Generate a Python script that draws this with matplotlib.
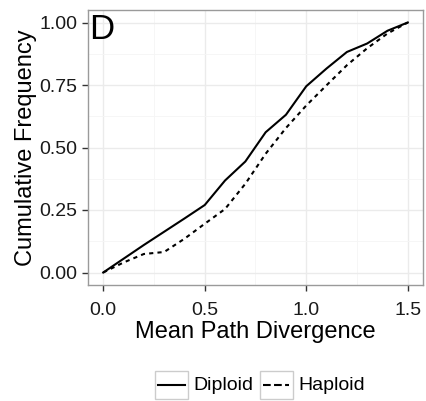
import matplotlib
matplotlib.use("Agg")
import matplotlib.pyplot as plt
from matplotlib.lines import Line2D
from matplotlib.patches import Rectangle
from matplotlib.legend_handler import HandlerLine2D

plt.rcParams['font.family'] = ['Liberation Sans', 'DejaVu Sans']

divergence = [0.0, 0.1, 0.2, 0.3, 0.4, 0.5, 0.6, 0.7, 0.8, 0.9, 1.0, 1.1, 1.2, 1.3, 1.4, 1.5]
diploid = [0.0, 0.055, 0.11, 0.163, 0.216, 0.27, 0.368, 0.444, 0.561, 0.631, 0.745, 0.816, 0.882, 0.916, 0.967, 1.0]
haploid = [0.0, 0.04, 0.074, 0.082, 0.135, 0.195, 0.254, 0.355, 0.475, 0.578, 0.668, 0.749, 0.829, 0.897, 0.956, 1.0]

series_names = ['Diploid', 'Haploid']
x_ticks = [0.0, 0.5, 1.0, 1.5]
x_ticklabels = ["0.0", "0.5", "1.0", "1.5"]
y_ticks = [0.0, 0.25, 0.5, 0.75, 1.0]
y_ticklabels = ["0.00", "0.25", "0.50", "0.75", "1.00"]

DASHES = (0, (2, 2))


class BoxedLineHandler(HandlerLine2D):
    """Legend key drawn as a short line inside a light grey box."""

    def create_artists(self, legend, orig_handle, xdescent, ydescent,
                       width, height, fontsize, trans):
        box = Rectangle((-xdescent, -ydescent - 0.35 * height), width, height * 1.5,
                        facecolor='white', edgecolor='#cccccc', lw=1.0, transform=trans)
        y = -ydescent + height / 2.0 - 0.1 * height
        pad = 0.1 * width
        line = Line2D([-xdescent + pad, -xdescent + width - pad], [y, y],
                      color=orig_handle.get_color(), lw=orig_handle.get_linewidth(),
                      linestyle=orig_handle.get_linestyle(), transform=trans)
        return [box, line]


fig = plt.figure(figsize=(4.27, 4.01), dpi=100)
ax = fig.add_axes([88 / 427, 1 - 285 / 401, (423 - 88) / 427, (285 - 10) / 401])

l1, = ax.plot(divergence, diploid, color='black', lw=1.5, linestyle='-', label=series_names[0])
l2, = ax.plot(divergence, haploid, color='black', lw=1.5, linestyle=DASHES, label=series_names[1])

ax.set_xlim(-0.075, 1.575)
ax.set_ylim(-0.05, 1.05)

ax.set_xticks(x_ticks)
ax.set_xticklabels(x_ticklabels)
ax.set_yticks(y_ticks)
ax.set_yticklabels(y_ticklabels)
ax.set_xticks([0.25, 0.75, 1.25], minor=True)
ax.set_yticks([0.125, 0.375, 0.625, 0.875], minor=True)

ax.grid(which='major', color='#ebebeb', lw=1.0)
ax.grid(which='minor', color='#f5f5f5', lw=0.6)
ax.set_axisbelow(True)

for s in ax.spines.values():
    s.set_color('#9a9a9a')
    s.set_linewidth(1.0)

ax.tick_params(which='major', direction='out', length=4.5, width=1, color='#333333',
               labelsize=14, labelcolor='#1a1a1a')
ax.tick_params(axis='x', pad=8)
ax.tick_params(axis='y', pad=3)
ax.tick_params(which='minor', length=0)

ax.set_xlabel('Mean Path Divergence', fontsize=17, labelpad=1)
ax.set_ylabel('Cumulative Frequency', fontsize=17, labelpad=2)

ax.text(0.003, 0.99, 'D', transform=ax.transAxes, fontsize=25, va='top', ha='left')

leg = fig.legend([l1, l2], series_names, loc='center',
                 bbox_to_anchor=(260 / 427, 1 - 384 / 401),
                 ncol=2, frameon=False, fontsize=14, handlelength=1.7, handleheight=1.1,
                 handletextpad=0.3, columnspacing=0.3, borderaxespad=0,
                 handler_map={Line2D: BoxedLineHandler()})

fig.savefig('out.png', dpi=100)
